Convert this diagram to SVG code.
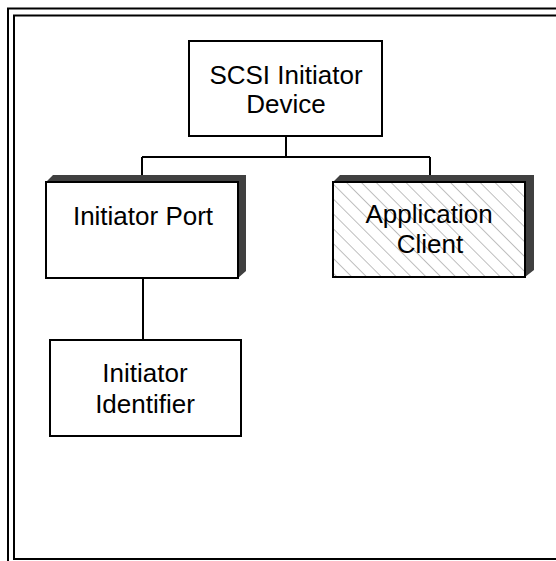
<svg xmlns="http://www.w3.org/2000/svg" width="556" height="561" viewBox="0 0 556 561">
<defs>
<pattern id="hatch" patternUnits="userSpaceOnUse" width="10.5" height="10.5" patternTransform="rotate(-45)">
<line x1="0" y1="0" x2="0" y2="10.5" stroke="#949494" stroke-width="1.2"/>
</pattern>
</defs>
<style>
.frame{fill:none;stroke:#000;stroke-width:2}
.box{fill:#fff;stroke:#000;stroke-width:2}
.shadow{fill:#404040;stroke:none}
.conn{fill:none;stroke:#000;stroke-width:2}
text{font-family:"Liberation Sans",Arial,sans-serif;font-size:26px;fill:#000;text-anchor:middle}
</style>
<rect width="556" height="561" fill="#fff"/>
<g id="frame">
<polyline class="frame" points="8,561 8,8.5 556,8.5"/>
<polyline class="frame" points="556,15.5 14,15.5 14,559 556,559"/>
</g>
<g id="connectors">
<line class="conn" x1="286" y1="136" x2="286" y2="157"/>
<line class="conn" x1="142" y1="157" x2="430" y2="157"/>
<line class="conn" x1="142" y1="157" x2="142" y2="182"/>
<line class="conn" x1="430" y1="157" x2="430" y2="182"/>
<line class="conn" x1="143" y1="278" x2="143" y2="340"/>
</g>
<g id="scsi-initiator-device">
<rect class="box" x="189" y="41" width="193" height="95"/>
<text x="286" y="84">SCSI Initiator</text>
<text x="286" y="113">Device</text>
</g>
<g id="initiator-port">
<polygon class="shadow" points="46,182 53,175 246,175 246,271 238,278 238,182"/>
<rect class="box" x="46" y="182" width="192" height="96"/>
<text x="143" y="225">Initiator Port</text>
</g>
<g id="application-client">
<polygon class="shadow" points="333,182 340,175 534,175 534,270 525,277 525,182"/>
<rect class="box" x="333" y="182" width="192" height="95" fill="#fff"/>
<rect x="334" y="183" width="190" height="93" fill="url(#hatch)"/>
<text x="429" y="223">Application</text>
<text x="430" y="253">Client</text>
</g>
<g id="initiator-identifier">
<rect class="box" x="50" y="340" width="191" height="96"/>
<text x="145" y="382">Initiator</text>
<text x="145" y="413">Identifier</text>
</g>
</svg>
